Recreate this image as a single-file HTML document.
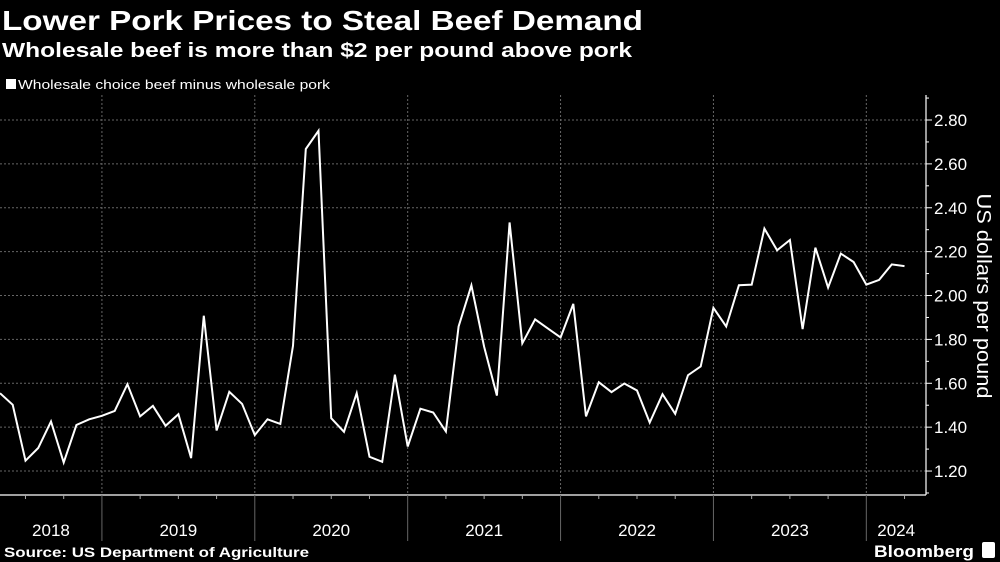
<!DOCTYPE html>
<html><head><meta charset="utf-8"><style>
html,body{margin:0;padding:0;background:#000;width:1000px;height:562px;overflow:hidden}
svg{display:block}
text{font-family:"Liberation Sans",sans-serif;fill:#fff}
</style></head><body>
<svg id="chart" width="1000" height="562" viewBox="0 0 1000 562">
<text x="2" y="30" font-size="28" font-weight="bold" textLength="641" lengthAdjust="spacingAndGlyphs">Lower Pork Prices to Steal Beef Demand</text>
<text x="2" y="57" font-size="20" font-weight="bold" textLength="630" lengthAdjust="spacingAndGlyphs">Wholesale beef is more than $2 per pound above pork</text>
<g>
<rect x="6" y="79" width="10" height="10" fill="#fff"/>
<text x="18" y="89" font-size="13" textLength="312" lengthAdjust="spacingAndGlyphs">Wholesale choice beef minus wholesale pork</text>
</g>
<g id="grid"></g>
<g id="yaxis"></g>
<g id="xaxis"></g>
<text transform="translate(977,296) rotate(90)" text-anchor="middle" font-size="20" textLength="205" lengthAdjust="spacingAndGlyphs">US dollars per pound</text>
<path id="line" fill="none" stroke="#fff" stroke-width="2" stroke-linejoin="miter"/>
<text x="4" y="557" font-size="14" font-weight="bold" textLength="305" lengthAdjust="spacingAndGlyphs">Source: US Department of Agriculture</text>
<text x="874" y="557" font-size="17" font-weight="bold" textLength="100" lengthAdjust="spacingAndGlyphs">Bloomberg</text>
<rect x="982" y="542" width="13" height="16" rx="2" fill="#fff"/>
</svg>
<script>
const values = [1.555,1.502,1.247,1.305,1.426,1.239,1.41,1.436,1.452,1.474,1.596,1.449,1.497,1.406,1.459,1.259,1.908,1.385,1.561,1.506,1.364,1.436,1.415,1.771,2.668,2.751,1.441,1.379,1.555,1.265,1.242,1.639,1.312,1.484,1.467,1.38,1.859,2.046,1.767,1.544,2.333,1.782,1.891,1.85,1.809,1.962,1.449,1.605,1.56,1.599,1.567,1.421,1.55,1.461,1.637,1.677,1.944,1.859,2.047,2.05,2.305,2.206,2.253,1.847,2.218,2.036,2.191,2.153,2.05,2.071,2.142,2.134];
const yTicks = [1.2,1.4,1.6,1.8,2.0,2.2,2.4,2.6,2.8];
const yearLabels = ["2018","2019","2020","2021","2022","2023","2024"];
const NS="http://www.w3.org/2000/svg";
const firstMonth = 4;
const x0 = 0, monthW = 12.74;
function xMonth(m){return x0 + (m - firstMonth)*monthW;}
function x(i){return xMonth(firstMonth + i);}
function y(v){return 120 + (2.8 - v)*219.4;}
function mk(tag, attrs, parent){const e=document.createElementNS(NS,tag);for(const k in attrs)e.setAttribute(k,attrs[k]);parent.appendChild(e);return e;}
const grid=document.getElementById('grid'), ya=document.getElementById('yaxis'), xa=document.getElementById('xaxis');
const axisR=926, axisB=495;
yTicks.forEach(t=>{
  const g=mk('line',{x1:0,x2:axisR,y1:y(t),y2:y(t),stroke:'#666','stroke-width':1,'stroke-dasharray':'2,2'},grid);
  
  
  const tk=mk('line',{x1:axisR,x2:axisR+6,y1:y(t),y2:y(t),stroke:'#fff','stroke-width':1},ya);
  
  
  const mt=mk('line',{x1:axisR,x2:axisR+3,y1:y(t+0.1),y2:y(t+0.1),stroke:'#fff','stroke-width':1},ya);
  
  
  const lb=mk('text',{x:axisR+8,y:y(t)+6,'font-size':17},ya);
  lb.textContent=t.toFixed(2);
  
  
});
const mt0=mk('line',{x1:axisR,x2:axisR+3,y1:y(1.1),y2:y(1.1),stroke:'#fff','stroke-width':1},ya);


const ral=mk('line',{x1:axisR,x2:axisR,y1:95,y2:axisB,stroke:'#fff','stroke-width':1.2},ya);


const bl=mk('line',{x1:0,x2:axisR,y1:axisB,y2:axisB,stroke:'#fff','stroke-width':1.2},xa);


yearLabels.forEach((yr,k)=>{
  const xs=xMonth(k*12);
  if(k>0){
    const gl=mk('line',{x1:xs,x2:xs,y1:95,y2:axisB,stroke:'#666','stroke-width':1,'stroke-dasharray':'2,2'},grid);
    
    
    const sp=mk('line',{x1:xs,x2:xs,y1:axisB,y2:541,stroke:'#666','stroke-width':1},xa);
    
    
  }
  for(let q=1;q<4;q++){
    const xq=xMonth(k*12+q*3);
    if(xq>0&&xq<axisR){
      const tq=mk('line',{x1:xq,x2:xq,y1:axisB,y2:axisB+4,stroke:'#aaa','stroke-width':1},xa);
      
      
    }
  }
  const start=Math.max(0,xs), end=Math.min(axisR,xMonth(k*12+12));
  const lb=mk('text',{x:(start+end)/2,y:536,'font-size':17,'text-anchor':'middle'},xa);
  lb.textContent=yr;
  
  
});
document.getElementById('line').setAttribute('d',values.map((v,i)=>(i?'L':'M')+x(i).toFixed(1)+','+y(v).toFixed(1)).join(''));
</script>
</body></html>
